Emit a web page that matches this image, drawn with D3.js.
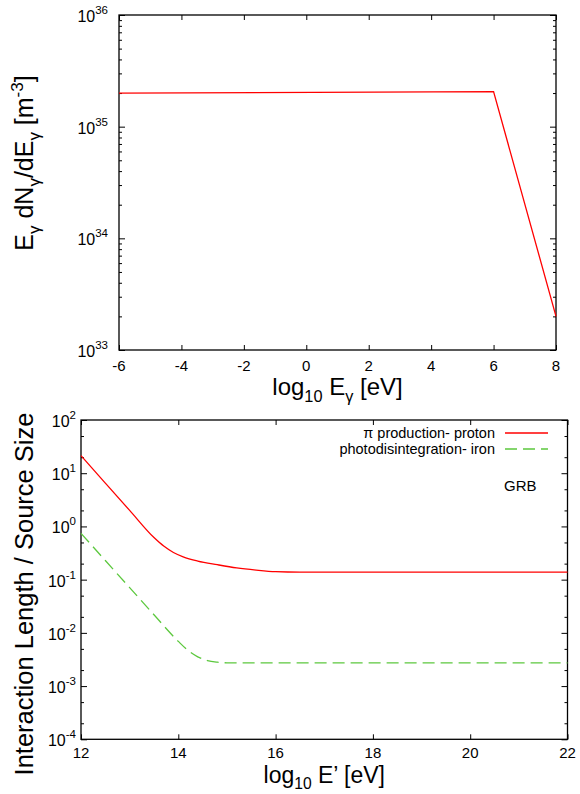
<!DOCTYPE html>
<html>
<head>
<meta charset="utf-8">
<script src="https://cdn.jsdelivr.net/npm/d3@7"></script>
<style>
  body { margin: 0; background: #fff; }
  svg { display: block; font-family: "Liberation Sans", Arial, sans-serif; }
</style>
</head>
<body>
<svg id="chart" width="580" height="794"></svg>
<script>
// top panel: photon spectrum
const spectrumLogE = [-6, 6, 8];
const spectrumFlux = [2.0e35, 2.06e35, 2.0e33];
const topXTicks = [-6, -4, -2, 0, 2, 4, 6, 8];
const topYDecades = [33, 34, 35, 36];

// bottom panel: interaction length / source size
const protonLogE = [12, 12.5, 13, 13.5, 13.7, 13.9, 14.1, 14.4, 14.8, 15.2, 15.6, 16, 16.5, 18, 20, 22];
const protonRatio = [21.4, 6.53, 2.0, 0.617, 0.427, 0.324, 0.269, 0.224, 0.191, 0.166, 0.151, 0.141, 0.138, 0.138, 0.138, 0.139];
const ironLogE = [12, 12.5, 13, 13.5, 14, 14.2, 14.4, 14.6, 14.8, 15, 18, 22];
const ironRatio = [0.741, 0.229, 0.0708, 0.0219, 0.00692, 0.00468, 0.00355, 0.00302, 0.00282, 0.00274, 0.00274, 0.00274];
const bottomXTicks = [12, 14, 16, 18, 20, 22];
const bottomYDecades = [-4, -3, -2, -1, 0, 1, 2];
const legendLabels = ["\u03c0 production- proton", "photodisintegration- iron"];

const svg = d3.select('#chart');

// write text made of normal / sub / sup pieces
function richText(sel, parts, size) {
  let cur = 0;
  parts.forEach(([t, s]) => {
    const target = s === 'sub' ? size * 0.28 : s === 'sup' ? -size * 0.42 : 0;
    sel.append('tspan')
      .attr('dy', target - cur)
      .attr('font-size', s ? size * 0.68 : size)
      .text(t);
    cur = target;
  });
}

function drawPanel(p) {
  const x = d3.scaleLinear().domain(p.xDomain).range([p.left, p.right]);
  const y = d3.scaleLog().domain(p.yDomain).range([p.bottom, p.top]);
  const g = svg.append('g');

  const minors = [];
  p.decades.slice(0, -1).forEach(d => {
    p.minorK.forEach(k => minors.push(k * Math.pow(10, d)));
  });
  const majors = p.decades.map(d => Math.pow(10, d));

  // x ticks bottom and top (inward)
  g.append('g').attr('transform', `translate(0,${p.bottom})`)
    .call(d3.axisBottom(x).tickValues(p.xTicks).tickSize(-5).tickFormat(''));
  g.append('g').attr('transform', `translate(0,${p.top})`)
    .call(d3.axisTop(x).tickValues(p.xTicks).tickSize(-5).tickFormat(''));
  // y ticks left and right
  g.append('g').attr('transform', `translate(${p.left},0)`)
    .call(d3.axisLeft(y).tickValues(majors).tickSize(-6).tickFormat(''));
  g.append('g').attr('transform', `translate(${p.left},0)`)
    .call(d3.axisLeft(y).tickValues(minors).tickSize(-3).tickFormat(''));
  g.append('g').attr('transform', `translate(${p.right},0)`)
    .call(d3.axisRight(y).tickValues(majors).tickSize(-6).tickFormat(''));
  g.append('g').attr('transform', `translate(${p.right},0)`)
    .call(d3.axisRight(y).tickValues(minors).tickSize(-3).tickFormat(''));
  g.selectAll('.domain').remove();
  g.selectAll('.tick line').attr('stroke', '#000').attr('stroke-width', 1);

  // x tick labels
  g.append('g').selectAll('text').data(p.xTicks).join('text')
    .attr('x', d => x(d)).attr('y', p.bottom + p.xLabelGap)
    .attr('text-anchor', 'middle').attr('font-size', 15).attr('fill', '#000')
    .text(d => d);

  // y tick labels 10^n
  g.append('g').selectAll('text').data(p.decades).join('text')
    .attr('x', p.left - p.labelGap).attr('y', d => y(Math.pow(10, d)) + 7)
    .attr('text-anchor', 'end').attr('fill', '#000')
    .each(function(d) {
      const t = d3.select(this);
      t.append('tspan').attr('font-size', 16).text('10');
      t.append('tspan').attr('font-size', 11.5).attr('dy', -8).text(d);
    });

  // frame
  g.append('rect')
    .attr('x', p.left).attr('y', p.top)
    .attr('width', p.right - p.left).attr('height', p.bottom - p.top)
    .attr('fill', 'none').attr('stroke', '#000').attr('stroke-width', 1.3);

  // axis titles
  const xl = g.append('text')
    .attr('x', (p.left + p.right) / 2).attr('y', p.xTitleY)
    .attr('text-anchor', 'middle').attr('fill', '#000');
  richText(xl, p.xTitle, p.xTitleSize);
  const yl = g.append('text')
    .attr('transform', `translate(${p.yTitleX},${p.yTitleY}) rotate(-90)`)
    .attr('text-anchor', 'middle').attr('fill', '#000');
  richText(yl, p.yTitle, p.yTitleSize);

  return { x, y, g };
}

// ---- top panel ----
const topPanel = drawPanel({
  left: 119, right: 556, top: 15, bottom: 350,
  xDomain: [-6, 8], yDomain: [1e33, 1e36],
  xTicks: topXTicks, decades: topYDecades, minorK: [2, 3, 4, 5, 6, 7, 8, 9],
  labelGap: 11, xLabelGap: 21,
  xTitle: [['log'], ['10', 'sub'], [' E'], ['\u03b3', 'sub'], [' [eV]']],
  xTitleY: 395, xTitleSize: 24,
  yTitle: [['E'], ['\u03b3', 'sub'], [' dN'], ['\u03b3', 'sub'], ['/dE'], ['\u03b3', 'sub'], [' [m'], ['-3', 'sup'], [']']],
  yTitleX: 33, yTitleY: 163, yTitleSize: 25
});

const spectrum = spectrumLogE.map((e, i) => [e, spectrumFlux[i]]);
topPanel.g.append('path')
  .datum(spectrum)
  .attr('fill', 'none').attr('stroke', '#ff0000').attr('stroke-width', 1.3)
  .attr('d', d3.line().x(d => topPanel.x(d[0])).y(d => topPanel.y(d[1])));

// ---- bottom panel ----
const botPanel = drawPanel({
  left: 81, right: 567.5, top: 420, bottom: 739.3,
  xDomain: [12, 22], yDomain: [1e-4, 1e2],
  xTicks: bottomXTicks, decades: bottomYDecades, minorK: [2, 5],
  labelGap: 5, xLabelGap: 19,
  xTitle: [['log'], ['10', 'sub'], [' E\u2019 [eV]']],
  xTitleY: 783, xTitleSize: 23,
  yTitle: [['Interaction Length / Source Size']],
  yTitleX: 33, yTitleY: 594, yTitleSize: 25.5
});

const lineB = d3.line().curve(d3.curveMonotoneX)
  .x(d => botPanel.x(d[0])).y(d => botPanel.y(d[1]));

const series = [
  { label: legendLabels[0], pts: protonLogE.map((e, i) => [e, protonRatio[i]]), color: '#ff0000', dash: null },
  { label: legendLabels[1], pts: ironLogE.map((e, i) => [e, ironRatio[i]]), color: '#5cc83e', dash: '12,6' }
];

series.forEach((s, i) => {
  botPanel.g.append('path')
    .datum(s.pts)
    .attr('fill', 'none').attr('stroke', s.color).attr('stroke-width', 1.3)
    .attr('stroke-dasharray', s.dash)
    .attr('d', lineB);

  const ly = 433 + i * 16;
  botPanel.g.append('line')
    .attr('x1', 505).attr('x2', 548).attr('y1', ly).attr('y2', ly)
    .attr('stroke', s.color).attr('stroke-width', 1.3)
    .attr('stroke-dasharray', s.dash);
  botPanel.g.append('text')
    .attr('x', 495).attr('y', ly + 5)
    .attr('text-anchor', 'end').attr('font-size', 14.5).attr('fill', '#000')
    .text(s.label);
});

botPanel.g.append('text')
  .attr('x', 504).attr('y', 491)
  .attr('font-size', 15).attr('fill', '#000')
  .text('GRB');
</script>
</body>
</html>
